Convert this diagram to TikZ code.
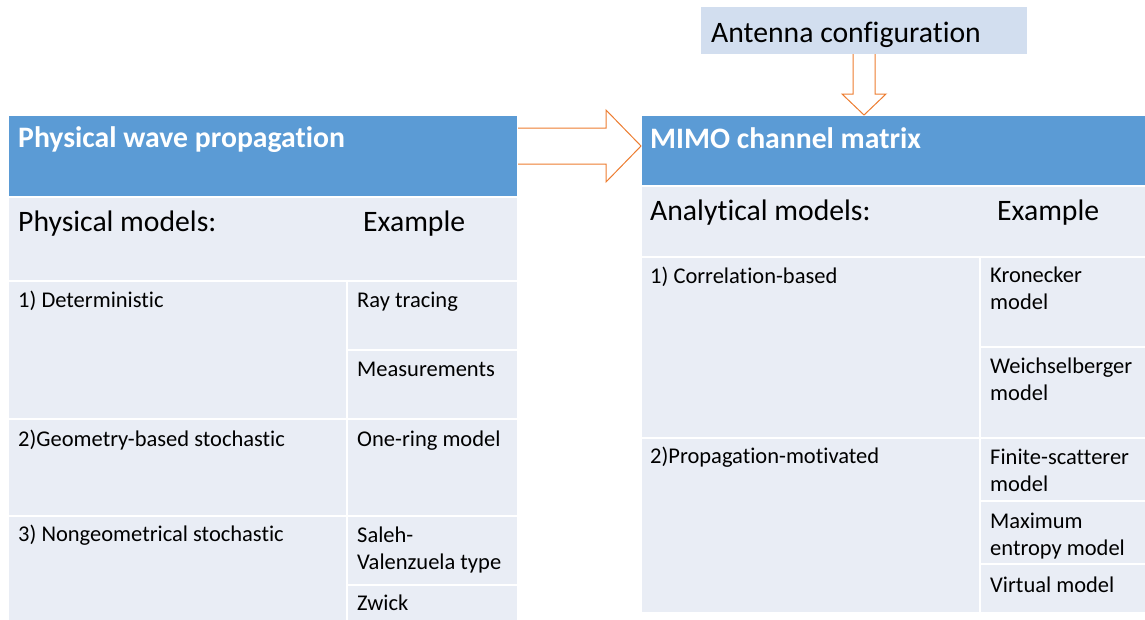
\documentclass[tikz,border=0pt]{standalone}
\usepackage{fontspec}
\setmainfont{Carlito}[Ligatures=NoCommon]
\usepackage{xcolor}
\usetikzlibrary{positioning}

\definecolor{headblue}{HTML}{5B9BD5}
\definecolor{cellfill}{HTML}{E9EDF5}
\definecolor{antfill}{HTML}{D2DEEF}
\definecolor{arroworange}{HTML}{ED7D31}

\begin{document}
\begin{tikzpicture}[
    x=1pt, y=-1pt,
    cell/.style={rectangle, draw=white, line width=2pt, fill=cellfill, anchor=north west, inner sep=0pt, outer sep=0pt},
    head/.style={cell, fill=headblue},
    big/.style={anchor=base west, inner sep=0pt, font=\fontsize{29.7}{36}\selectfont},
    bighead/.style={big, text=white, font=\fontsize{29.7}{36}\selectfont\bfseries},
    small/.style={anchor=base west, inner sep=0pt, align=left, font=\fontsize{22.5}{27}\selectfont},
    hollow/.style={draw=arroworange, fill=white, line width=1pt}
]
    \clip (0,0) rectangle (1145,619);

    % left table: physical models
    \node[head, minimum width=510, minimum height=82] (phys) at (8,115) {};
    \node[cell, minimum width=510, minimum height=84] (physmod) at (8,197) {};
    \node[cell, minimum width=339, minimum height=138] (det) at (8,281) {};
    \node[cell, minimum width=171, minimum height=69] (ray) at (347,281) {};
    \node[cell, minimum width=171, minimum height=69] (meas) at (347,350) {};
    \node[cell, minimum width=339, minimum height=97] (geo) at (8,419) {};
    \node[cell, minimum width=171, minimum height=97] (onering) at (347,419) {};
    \node[cell, minimum width=339, minimum height=106] (nongeo) at (8,516) {};
    \node[cell, minimum width=171, minimum height=69] (saleh) at (347,516) {};
    \node[cell, minimum width=171, minimum height=37] (zwick) at (347,585) {};

    \node[bighead] (physT) at ([shift={(10,32)}]phys.north west) {Physical wave propagation};
    \node[big] (physmodT) at ([shift={(10,34)}]physmod.north west) {Physical models:};
    \node[big] (physexT) at ([shift={(355,34)}]physmod.north west) {Example};
    \node[small] (detT) at ([shift={(10,26)}]det.north west) {1) Deterministic};
    \node[small] (rayT) at ([shift={(10,26)}]ray.north west) {Ray tracing};
    \node[small] (measT) at ([shift={(10,26)}]meas.north west) {Measurements};
    \node[small] (geoT) at ([shift={(10,27)}]geo.north west) {2)Geometry-based stochastic};
    \node[small] (oneringT) at ([shift={(10,27)}]onering.north west) {One-ring model};
    \node[small] (nongeoT) at ([shift={(10,25)}]nongeo.north west) {3) Nongeometrical stochastic};
    % two-line texts sit on their last baseline
    \node[small] (salehT) at ([shift={(10,53)}]saleh.north west) {Saleh-\\Valenzuela type};
    \node[small] (zwickT) at ([shift={(10,25)}]zwick.north west) {Zwick};

    % right table: analytical models
    \node[fill=antfill, anchor=north west, inner sep=0pt, outer sep=0pt, minimum width=326, minimum height=47] (ant) at (701,7) {};
    \node[big] (antT) at ([shift={(10,35)}]ant.north west) {Antenna configuration};

    \node[head, minimum width=510, minimum height=71] (mimo) at (641,115) {};
    \node[cell, minimum width=510, minimum height=71] (anamod) at (641,186) {};
    \node[cell, minimum width=339, minimum height=181] (corr) at (641,257) {};
    \node[cell, minimum width=170, minimum height=90] (kron) at (980,257) {};
    \node[cell, minimum width=170, minimum height=91] (weich) at (980,347) {};
    \node[cell, minimum width=339, minimum height=175] (prop) at (641,438) {};
    \node[cell, minimum width=170, minimum height=63] (finite) at (980,438) {};
    \node[cell, minimum width=170, minimum height=63] (maxent) at (980,501) {};
    \node[cell, minimum width=170, minimum height=49] (virt) at (980,564) {};

    \node[bighead] (mimoT) at ([shift={(9,33)}]mimo.north west) {MIMO channel matrix};
    \node[big] (anamodT) at ([shift={(9,34)}]anamod.north west) {Analytical models:};
    \node[big] (anaexT) at ([shift={(356,34)}]anamod.north west) {Example};
    \node[small] (corrT) at ([shift={(9,26)}]corr.north west) {1) Correlation-based};
    \node[small] (kronT) at ([shift={(10,52)}]kron.north west) {Kronecker\\model};
    \node[small] (weichT) at ([shift={(10,53)}]weich.north west) {Weichselberger\\model};
    \node[small] (propT) at ([shift={(9,25)}]prop.north west) {2)Propagation-motivated};
    \node[small] (finiteT) at ([shift={(10,53)}]finite.north west) {Finite-scatterer\\model};
    \node[small] (maxentT) at ([shift={(10,54)}]maxent.north west) {Maximum\\entropy model};
    \node[small] (virtT) at ([shift={(10,28)}]virt.north west) {Virtual model};

    % block arrows
    \filldraw[hollow] ([shift={(0,13)}]phys.north east) -- ([shift={(-35,13)}]mimo.north west)
        -- ([shift={(-35,-5)}]mimo.north west) -- ([shift={(0,31)}]mimo.north west)
        -- ([shift={(-35,67)}]mimo.north west) -- ([shift={(-35,49)}]mimo.north west)
        -- ([shift={(0,49)}]phys.north east);
    \coordinate (tip) at (ant.south |- mimo.north);
    \filldraw[hollow] ([shift={(-11,0)}]ant.south) -- ([shift={(-11,-21)}]tip)
        -- ([shift={(-22,-21)}]tip) -- (tip) -- ([shift={(22,-21)}]tip)
        -- ([shift={(11,-21)}]tip) -- ([shift={(11,0)}]ant.south);
\end{tikzpicture}
\end{document}
